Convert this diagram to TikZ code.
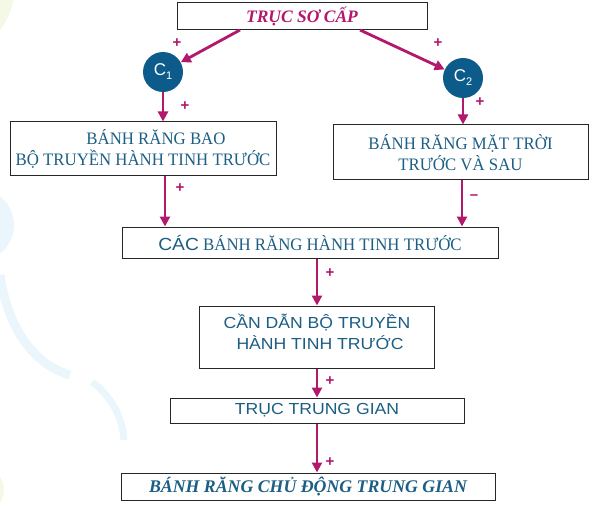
\documentclass[tikz,border=0pt]{standalone}
\usepackage{fontspec}
\setmainfont{Liberation Serif}
\newfontfamily\boxserif[FakeStretch=0.96]{Liberation Serif}
\setsansfont[FakeStretch=1.1]{Liberation Sans}
\newfontfamily\plainsans{Liberation Sans}
\usetikzlibrary{arrows.meta}
\definecolor{mag}{HTML}{B2186C}
\definecolor{txtblue}{HTML}{1C5E84}
\definecolor{cfill}{HTML}{0C5B8B}
\definecolor{bgblue}{HTML}{EBF6FC}
\definecolor{bggreen}{HTML}{F3F9E4}
\begin{document}
\begin{tikzpicture}[x=1pt,y=-1pt,
  box/.style={draw=black!85, line width=1pt, fill=white, inner sep=0pt, text=txtblue, align=center},
  serif/.style={font=\boxserif\fontsize{17.5}{21}\selectfont},
  sans/.style={font=\sffamily\fontsize{16}{21}\selectfont},
  title/.style={font=\rmfamily\bfseries\itshape\fontsize{17.5}{20}\selectfont},
  gear/.style={circle, fill=cfill, minimum size=40pt, inner sep=0pt, text=white, font=\plainsans\fontsize{17}{17}\selectfont},
  arr/.style={draw=mag, line width=2.8pt, -{Triangle[length=10pt,width=10pt]}},
  sgn/.style={text=mag, font=\plainsans\bfseries\fontsize{15}{15}\selectfont, inner sep=0pt}]
\useasboundingbox (0,0) rectangle (600,516);
% faint background decoration
\fill[bggreen] (-60,-15) circle (75);
\fill[bgblue] (-22,225) circle (36);
\draw[bgblue, line width=9pt] (0,275) .. controls (8,330) and (35,365) .. (70,375);
\draw[bgblue, line width=7pt] (92,382) .. controls (110,395) and (122,415) .. (124,440);
\fill[bggreen] (-20,490) circle (24);
% nodes
\node[box, title, text=mag, minimum width=250pt, minimum height=27pt] (top) at (302,16) {TRỤC SƠ CẤP};
\node[gear] (c1) at (163,72) {C\raisebox{-4pt}{\fontsize{11}{11}\selectfont 1}};
\node[gear] (c2) at (463,78) {C\raisebox{-4pt}{\fontsize{11}{11}\selectfont 2}};
\node[box, serif, minimum width=266pt, minimum height=54pt] (left) at (143,149) {\hspace*{26pt}BÁNH RĂNG BAO\\BỘ TRUYỀN HÀNH TINH TRƯỚC};
\node[box, serif, minimum width=255pt, minimum height=55pt] (right) at (460.5,152.5) {BÁNH RĂNG MẶT TRỜI\\TRƯỚC VÀ SAU};
\node[box, serif, minimum width=376pt, minimum height=31pt] (cac) at (310,242.5) {{\sffamily CÁC} BÁNH RĂNG HÀNH TINH TRƯỚC};
\node[box, sans, minimum width=235pt, minimum height=62pt] (can) at (317,337) {CẦN DẪN BỘ TRUYỀN\\\hspace*{6pt}HÀNH TINH TRƯỚC\rule[-10pt]{0pt}{1pt}};
\node[box, sans, minimum width=294pt, minimum height=25pt] (trung) at (317,410.5) {TRỤC TRUNG GIAN};
\node[box, title, font=\rmfamily\bfseries\itshape\fontsize{17.8}{20}\selectfont, minimum width=374pt, minimum height=27pt] (final) at (308,486.5) {BÁNH RĂNG CHỦ ĐỘNG TRUNG GIAN};
% connectors
\draw[arr] ([xshift=-62pt]top.south) -- (c1);
\draw[arr] ([xshift=58pt]top.south) -- (c2);
\draw[arr] (c1) -- (c1 |- left.north);
\draw[arr] (c2) -- (c2 |- right.north);
\coordinate (a1) at ([xshift=22pt]left.south);
\draw[arr] (a1) -- (a1 |- cac.north);
\coordinate (a2) at ([xshift=1.5pt]right.south);
\draw[arr] (a2) -- (a2 |- cac.north);
\draw[arr] (can.north |- cac.south) -- (can.north);
\draw[arr] (can.south) -- (trung.north);
\draw[arr] (trung.south) -- (trung.south |- final.north);
% signs
\node[sgn] (s1) at (177,43) {+};
\node[sgn] (s2) at (438,43) {+};
\node[sgn] (s3) at (185,106) {+};
\node[sgn] (s4) at (480,102) {+};
\node[sgn] (s5) at (180,188) {+};
\node[sgn] (s6) at (474,197) {–};
\node[sgn] (s7) at (330,273) {+};
\node[sgn] (s8) at (330,381) {+};
\node[sgn] (s9) at (330,462) {+};
\end{tikzpicture}
\end{document}
